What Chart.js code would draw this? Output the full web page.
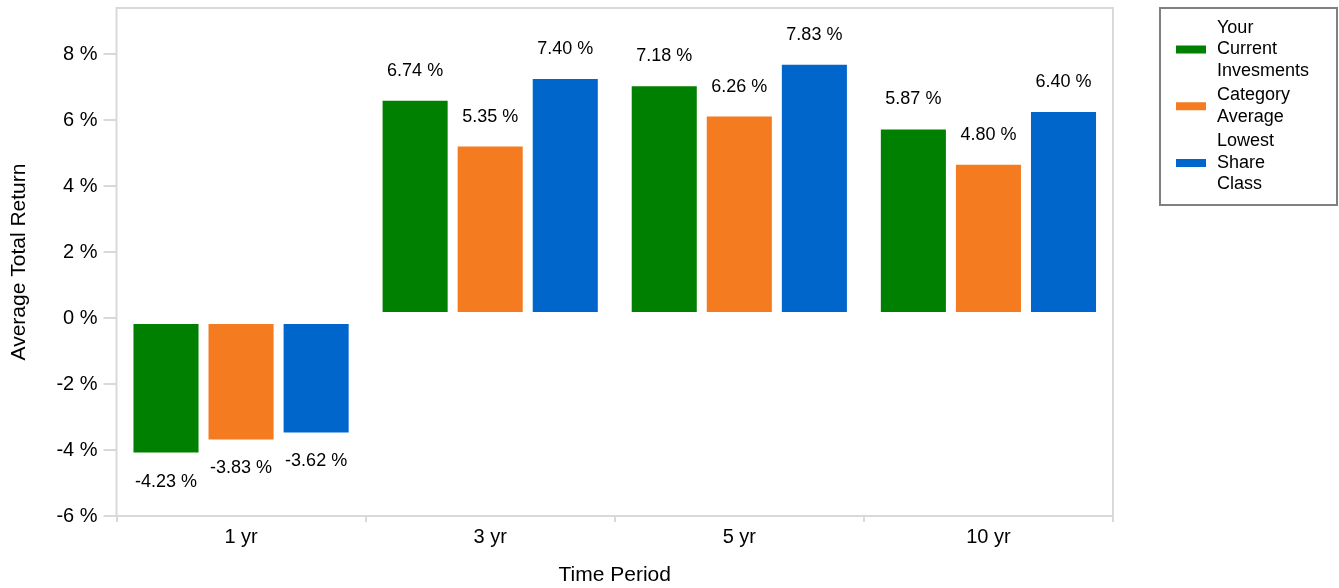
<!DOCTYPE html>
<html>
<head>
<meta charset="utf-8">
<script src="https://cdn.jsdelivr.net/npm/chart.js@4/dist/chart.umd.min.js"></script>
<style>
  html, body { margin: 0; padding: 0; background: #fff; }
  #wrap { width: 1339px; height: 588px; position: relative; }
</style>
</head>
<body>
<div id="wrap"><canvas id="returnsChart"></canvas></div>
<script>
// Data
const periods = ['1 yr', '3 yr', '5 yr', '10 yr'];
const currentInvestments = [-4.23, 6.74, 7.18, 5.87];
const categoryAverage = [-3.83, 5.35, 6.26, 4.80];
const lowestShareClass = [-3.62, 7.40, 7.83, 6.40];
const yTicks = [-6, -4, -2, 0, 2, 4, 6, 8];

const seriesNames = [['Your', 'Current', 'Invesments'], ['Category', 'Average'], ['Lowest', 'Share', 'Class']];
const seriesColors = ['#008000', '#F47B20', '#0066CC'];

const FONT = "'Liberation Sans', Arial, sans-serif";
const GRID = '#d9d9d9';

// value labels above / below each bar
const valueLabels = {
    id: 'valueLabels',
    afterDatasetsDraw(chart) {
        const ctx = chart.ctx;
        ctx.save();
        ctx.font = '18px ' + FONT;
        ctx.fillStyle = '#000';
        ctx.textAlign = 'center';
        ctx.textBaseline = 'middle';
        chart.data.datasets.forEach((ds, i) => {
            chart.getDatasetMeta(i).data.forEach((bar, j) => {
                const v = ds.data[j];
                const y = v >= 0 ? bar.y - 25 : bar.y + 24;
                ctx.fillText(v.toFixed(2) + ' %', bar.x, y);
            });
        });
        ctx.restore();
    }
};

// light frame round the plot area
const plotFrame = {
    id: 'plotFrame',
    beforeDatasetsDraw(chart) {
        const a = chart.chartArea;
        const ctx = chart.ctx;
        ctx.save();
        ctx.strokeStyle = GRID;
        ctx.lineWidth = 2;
        ctx.strokeRect(a.left, a.top, a.right - a.left, a.bottom - a.top);
        ctx.restore();
    }
};

// boxed legend on the right with wrapped names
const sideLegend = {
    id: 'sideLegend',
    afterDraw(chart) {
        const ctx = chart.ctx;
        ctx.save();
        ctx.strokeStyle = '#808080';
        ctx.lineWidth = 2;
        ctx.strokeRect(1160, 8, 177, 197);
        ctx.font = '18px ' + FONT;
        ctx.textBaseline = 'middle';
        ctx.textAlign = 'left';
        let y = 28;
        const lineH = 21.5;
        seriesNames.forEach((lines, i) => {
            const mid = y + (lines.length - 1) * lineH / 2;
            ctx.fillStyle = seriesColors[i];
            ctx.fillRect(1176, mid - 4, 30, 8);
            ctx.fillStyle = '#000';
            lines.forEach((t, k) => ctx.fillText(t, 1217, y + k * lineH));
            y += lines.length * lineH + 3;
        });
        ctx.restore();
    }
};

const ctx = document.getElementById('returnsChart').getContext('2d');
new Chart(ctx, {
    type: 'bar',
    data: {
        labels: periods,
        datasets: [currentInvestments, categoryAverage, lowestShareClass].map((d, i) => ({
            label: seriesNames[i].join(' '),
            data: d,
            backgroundColor: seriesColors[i],
            borderColor: '#ffffff',
            borderWidth: 5,
            borderSkipped: false,
            categoryPercentage: 0.904,
            barPercentage: 1
        }))
    },
    options: {
        responsive: true,
        maintainAspectRatio: false,
        animation: false,
        layout: { padding: { top: 8, right: 226, left: 0, bottom: 0 } },
        plugins: {
            legend: { display: false },
            tooltip: { enabled: false }
        },
        scales: {
            x: {
                afterFit: s => { s.height = 72; },
                grid: { offset: true, drawOnChartArea: false, color: GRID, lineWidth: 2, tickLength: 6 },
                border: { display: false },
                ticks: { color: '#000', font: { family: FONT, size: 20 }, padding: 3 },
                title: { display: true, text: 'Time Period', color: '#000', font: { family: FONT, size: 21 }, padding: { top: 4, bottom: 0 } }
            },
            y: {
                min: -6,
                max: 9.4,
                afterFit: s => { s.width = 116.5; s.paddingTop = 0; s.paddingBottom = 0; },
                afterBuildTicks: s => { s.ticks = yTicks.map(v => ({ value: v })); },
                grid: { drawOnChartArea: false, color: GRID, lineWidth: 2, tickLength: 13 },
                border: { display: false },
                ticks: { color: '#000', font: { family: FONT, size: 20 }, padding: 6, callback: v => v + ' %' },
                title: { display: true, text: 'Average Total Return', color: '#000', font: { family: FONT, size: 21 }, padding: { top: 7, bottom: 4 } }
            }
        }
    },
    plugins: [plotFrame, valueLabels, sideLegend]
});
</script>
</body>
</html>
